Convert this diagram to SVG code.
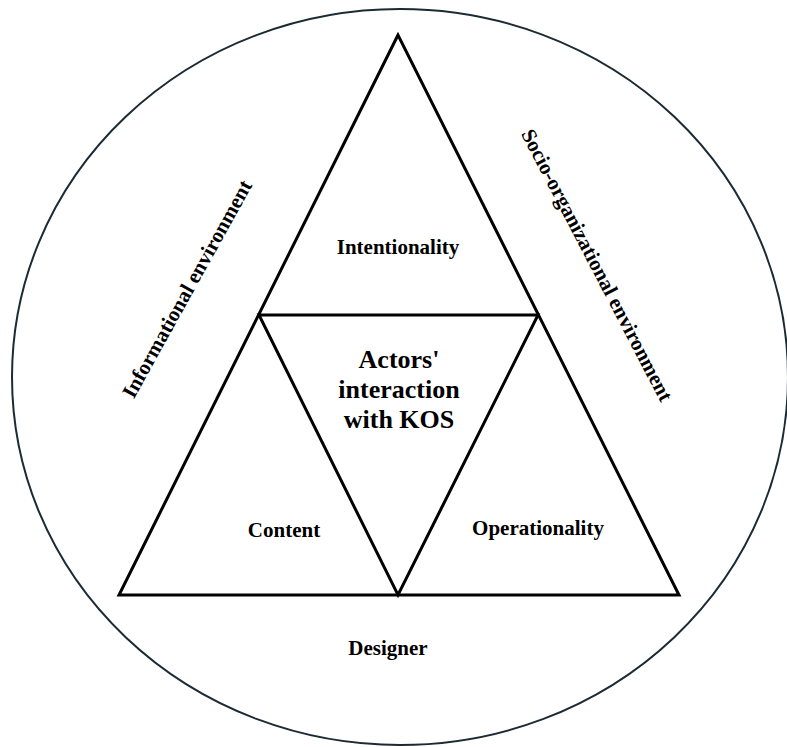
<svg xmlns="http://www.w3.org/2000/svg" width="787" height="747" viewBox="0 0 787 747">
<style>
.ln{fill:none;stroke:#000;stroke-width:3;stroke-linejoin:miter}
.t{font-family:"Liberation Serif","Times New Roman",serif;font-weight:bold;fill:#000;text-anchor:middle;font-size:21px}
.c{font-size:26px}
</style>
<rect width="787" height="747" fill="#fff"/>
<g id="environment">
<ellipse cx="400" cy="377" rx="388" ry="368" fill="none" stroke="#1b2a33" stroke-width="2"/>
</g>
<g id="connectors">
<polygon class="ln" points="398,35 119,595 679,595"/>
<polygon class="ln" points="259,315 538,315 398,595"/>
</g>
<g id="intentionality"><text class="t" x="398" y="254">Intentionality</text></g>
<g id="center">
<text class="t c" x="399" y="368">Actors'</text>
<text class="t c" x="399" y="398">interaction</text>
<text class="t c" x="399" y="428">with KOS</text>
</g>
<g id="content"><text class="t" x="284" y="537">Content</text></g>
<g id="operationality"><text class="t" x="538" y="535">Operationality</text></g>
<g id="designer"><text class="t" x="388" y="655">Designer</text></g>
<g id="informational"><text class="t" transform="translate(187,289) rotate(-61)" dy="7">Informational environment</text></g>
<g id="socio"><text class="t" transform="translate(597,265) rotate(62.5)" dy="7">Socio-organizational environment</text></g>
</svg>
